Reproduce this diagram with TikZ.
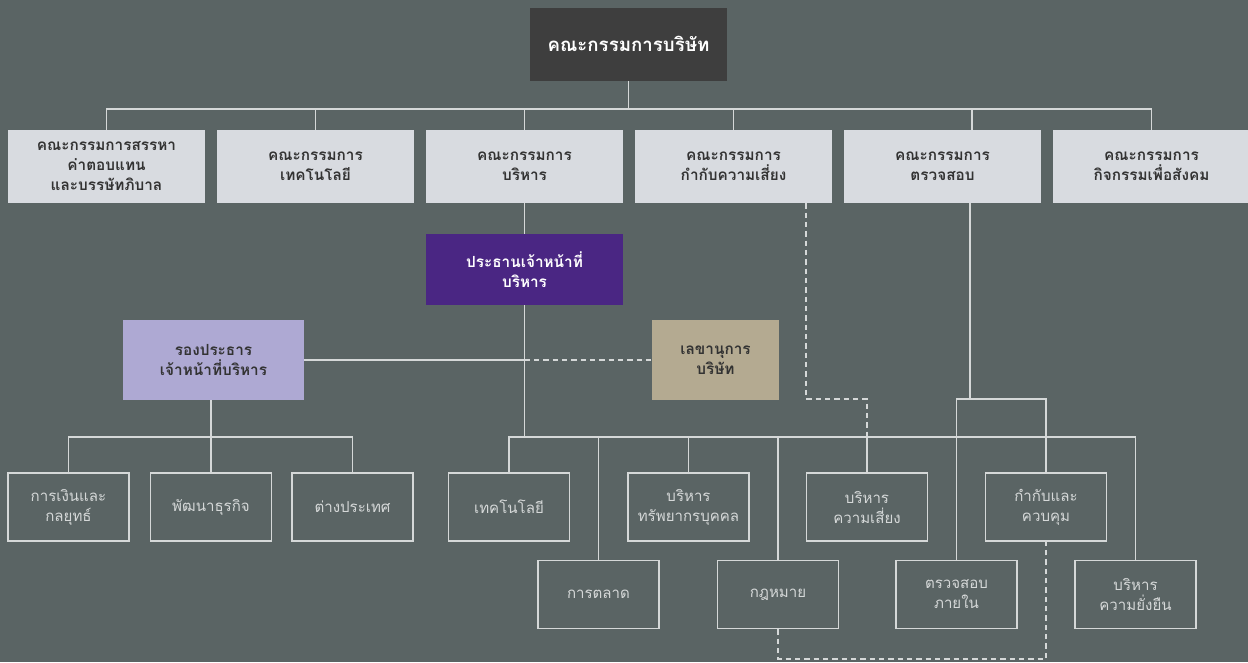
\documentclass[tikz,border=0pt]{standalone}
\usepackage{fontspec}
\setmainfont[Script=Thai]{Loma}
\usetikzlibrary{calc}
\definecolor{bg}{HTML}{5A6464}
\definecolor{topc}{HTML}{3E3E3E}
\definecolor{comm}{HTML}{D8DBE0}
\definecolor{ceoc}{HTML}{4A2683}
\definecolor{vicec}{HTML}{AEA9D3}
\definecolor{secc}{HTML}{B4AA91}
\definecolor{linec}{HTML}{D5D8D8}
\definecolor{darktxt}{HTML}{333333}
\tikzset{
  x=0.75pt, y=-0.75pt,
  base/.style={inner sep=0pt, align=center, font=\fontsize{11.3}{15}\selectfont},
  topbox/.style={base, fill=topc, text=white, font=\bfseries\fontsize{14}{16}\selectfont, minimum width=197*0.75pt, minimum height=73*0.75pt},
  commbox/.style={base, fill=comm, text=darktxt, font=\bfseries\fontsize{11.5}{15}\selectfont, minimum width=197*0.75pt, minimum height=73*0.75pt},
  ceobox/.style={base, fill=ceoc, text=white, font=\bfseries\fontsize{11.5}{15}\selectfont, minimum width=197*0.75pt, minimum height=71*0.75pt},
  vicebox/.style={base, fill=vicec, text=darktxt, font=\bfseries\fontsize{11.5}{15}\selectfont, minimum width=181*0.75pt, minimum height=80*0.75pt},
  secbox/.style={base, fill=secc, text=darktxt, font=\bfseries\fontsize{11.5}{15}\selectfont, minimum width=127*0.75pt, minimum height=80*0.75pt},
  unitbox/.style={base, draw=linec, line width=1.2pt, text=linec, minimum width=121*0.75pt, minimum height=68*0.75pt},
  conn/.style={draw=linec, line width=1pt},
  dconn/.style={draw=linec, line width=1pt, dash pattern=on 4pt off 3pt},
}
\begin{document}
\begin{tikzpicture}
\fill[bg] (0,0) rectangle (1248,662);
\useasboundingbox (0,0) rectangle (1248,662);

% nodes
\node[topbox] (top) at (628.5,44) {คณะกรรมการบริษัท};
\node[commbox] (c1) at (106.5,166.5) {คณะกรรมการสรรหา\\ค่าตอบแทน\\และบรรษัทภิบาล};
\node[commbox] (c2) at (315.5,166.5) {คณะกรรมการ\\เทคโนโลยี};
\node[commbox] (c3) at (524.5,166.5) {คณะกรรมการ\\บริหาร};
\node[commbox] (c4) at (733.5,166.5) {คณะกรรมการ\\กำกับความเสี่ยง};
\node[commbox] (c5) at (942.5,166.5) {คณะกรรมการ\\ตรวจสอบ};
\node[commbox] (c6) at (1151.5,166.5) {คณะกรรมการ\\กิจกรรมเพื่อสังคม};

\node[ceobox] (ceo) at (524.5,269.5) {ประธานเจ้าหน้าที่\\บริหาร};
\node[vicebox] (vice) at (213.5,360) {รองประธาร\\เจ้าหน้าที่บริหาร};
\node[secbox] (sec) at (715.5,360) {เลขานุการ\\บริษัท};

\node[unitbox] (fin) at (68.5,507) {การเงินและ\\กลยุทธ์};
\node[unitbox] (bd) at (211,507) {พัฒนาธุรกิจ};
\node[unitbox] (intl) at (352.5,507) {ต่างประเทศ};
\node[unitbox] (tech) at (509,507) {เทคโนโลยี};
\node[unitbox] (hr) at (688.5,507) {บริหาร\\ทรัพยากรบุคคล};
\node[unitbox] (risk) at (867,507) {บริหาร\\ความเสี่ยง};
\node[unitbox] (ctrl) at (1046,507) {กำกับและ\\ควบคุม};
\node[unitbox] (mkt) at (598.5,594.5) {การตลาด};
\node[unitbox] (legal) at (778,594.5) {กฎหมาย};
\node[unitbox] (ia) at (956.5,594.5) {ตรวจสอบ\\ภายใน};
\node[unitbox] (sus) at (1135.5,594.5) {บริหาร\\ความยั่งยืน};

% coordinates
\coordinate (bus1) at (628.5,109);
\coordinate (bus2) at (524.5,437);
\coordinate (bus3) at (211,437);
\coordinate (aud) at (970,399);
\coordinate (riskd) at (806,399);
\coordinate (legd) at (778,659);

% top level
\draw[conn] (top.south) -- (bus1);
\foreach \n in {c1,c2,c3,c4,c6} \draw[conn] (\n.north) |- (bus1);
\draw[conn] ($(c5.north)+(29.5,0)$) |- (bus1);

% executive
\draw[conn] (c3.south) -- (ceo.north);
\draw[conn] (ceo.south) -- (bus2);
\draw[conn] (vice.east) -- (vice.east -| ceo.south);
\draw[dconn] (vice.east -| ceo.south) -- (sec.west);

% vice units
\draw[conn] (vice.south -| bus3) -- (bus3);
\foreach \n in {fin,bd,intl} \draw[conn] (\n.north) |- (bus3);

% ceo units
\foreach \n in {tech,mkt,hr,legal,risk,sus} \draw[conn] (\n.north) |- (bus2);

% audit committee
\draw[conn] ($(c5.south)+(27.5,0)$) -- (aud);
\draw[conn] (ia.north) |- (aud);
\draw[conn] (ctrl.north) |- (aud);

% dashed risk line
\draw[dconn] ($(c4.south)+(72.5,0)$) -- (riskd) -| (risk.north |- bus2);

% dashed legal-control
\draw[dconn] (legal.south) -- (legd) -| (ctrl.south);
\end{tikzpicture}
\end{document}
